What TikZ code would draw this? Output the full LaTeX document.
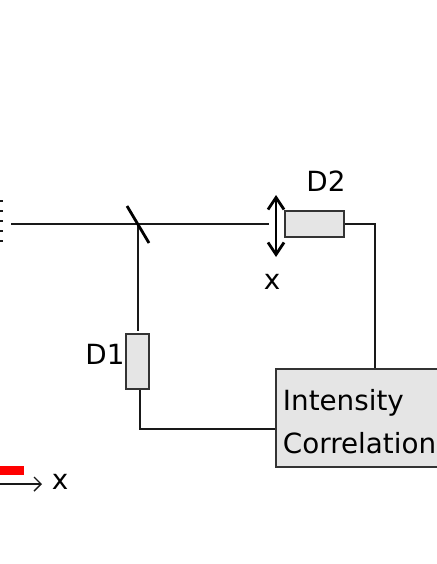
\documentclass[tikz,border=0pt]{standalone}
\usepackage{fontspec}
\setmainfont{DejaVu Sans}
\usepackage{tikz}
\usetikzlibrary{arrows.meta,positioning}
\definecolor{boxgray}{HTML}{E5E5E5}
\begin{document}
\begin{tikzpicture}[x=0.01cm, y=-0.01cm, every node/.style={font=\fontsize{7.9pt}{12.4pt}\selectfont}]
\tikzset{wire/.style={draw=black!90, line width=0.4pt}}
\tikzset{det/.style={draw=black!80, fill=boxgray, line width=0.45pt, inner sep=0pt}}
\tikzset{tag/.style={inner sep=0pt}}
\useasboundingbox (0,0) rectangle (436,564);
% optics
\coordinate (src) at (11,224);
\coordinate (bs) at (138,224);
\coordinate (bsa) at (127,206);
\coordinate (bsb) at (149,243);
\coordinate (lensa) at (276,195);
\coordinate (lensb) at (276,257);
\coordinate (beamend) at (269,224);
\coordinate (d1in) at (138,331);
\node[det, minimum width=0.59cm, minimum height=0.26cm] (d2) at (314.5,224) {};
\node[det, minimum width=0.23cm, minimum height=0.55cm] (d1) at (137.5,361.5) {};
\node[det, minimum width=1.80cm, minimum height=0.98cm, text width=1.66cm, align=left] (corr) at (366,418) {\rule{0pt}{8pt}Intensity\\Correlation};
\node[tag, above=0.18cm of d2, xshift=0.115cm] (d2tag) {D2};
\node[tag, left=0cm of d1, yshift=0.07cm] (d1tag) {D1};
\node[tag] (lensx) at (272,282) {x};
% wires
\draw[wire] (src) -- (beamend);
\draw[wire] (bs) -- (d1in);
\draw[wire] (d2.east) -| ([xshift=0.09cm]corr.north);
\draw[wire] ([xshift=0.025cm]d1.south) |- ([yshift=-0.11cm]corr.west);
\draw[line width=0.8pt, black] (bsa) -- (bsb);
\draw[line width=0.8pt, black, {Straight Barb[length=1.2mm,width=1.6mm]}-{Straight Barb[length=1.2mm,width=1.6mm]}] (lensa) -- (lensb);
% source
\foreach \y in {201,211,221,231,241}
  \draw[wire] (0,\y) -- (3,\y);
\fill[red] (0,466) rectangle (24,475);
\coordinate (axis0) at (0,484);
\coordinate (axis1) at (42,484);
\draw[wire, -{Straight Barb[length=0.7mm,width=1.4mm]}] (axis0) -- (axis1);
\node[tag] (axisx) at (60,482) {x};
\end{tikzpicture}
\end{document}
